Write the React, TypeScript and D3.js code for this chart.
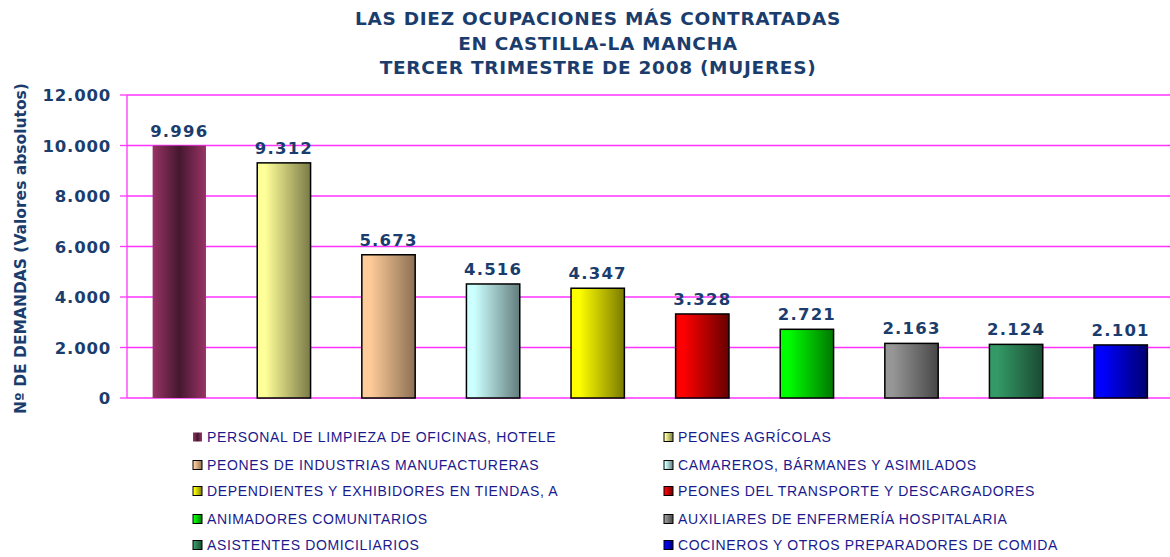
import React from 'react';
import * as d3 from 'd3';

// datos
const categories = [
  'PERSONAL DE LIMPIEZA DE OFICINAS, HOTELE',
  'PEONES AGRÍCOLAS',
  'PEONES DE INDUSTRIAS MANUFACTURERAS',
  'CAMAREROS, BÁRMANES Y ASIMILADOS',
  'DEPENDIENTES Y EXHIBIDORES EN TIENDAS, A',
  'PEONES DEL TRANSPORTE Y DESCARGADORES',
  'ANIMADORES COMUNITARIOS',
  'AUXILIARES DE ENFERMERÍA HOSPITALARIA',
  'ASISTENTES DOMICILIARIOS',
  'COCINEROS Y OTROS PREPARADORES DE COMIDA',
];
const values = [9996, 9312, 5673, 4516, 4347, 3328, 2721, 2163, 2124, 2101];
const yTicks = [0, 2000, 4000, 6000, 8000, 10000, 12000];
const titleLines = [
  'LAS DIEZ OCUPACIONES MÁS CONTRATADAS',
  'EN CASTILLA-LA MANCHA',
  'TERCER TRIMESTRE DE 2008 (MUJERES)',
];
// colores claro -> oscuro
const lightColors = ['#993366', '#FFFF99', '#FFCC99', '#CCFFFF', '#FFFF00', '#FF0000', '#00FF00', '#969696', '#339966', '#0000FF'];
const darkColors = ['#45182F', '#7A7A48', '#8C7054', '#637C7C', '#7A7A00', '#660000', '#007700', '#474747', '#1A4A32', '#000070'];

const W = 1170;
const H = 557;
const navy = '#1B3D6D';
const grid = '#FF33FF';
const font = 'DejaVu Sans, Verdana, sans-serif';

const fmt = (v: number) => d3.format(',')(v).replace(/,/g, '.');

export default function App() {
  const margin = { top: 95, left: 127, bottom: 398, right: 1173 };

  const x = d3
    .scaleBand<number>()
    .domain(values.map((_, i) => i))
    .range([margin.left, margin.right])
    .paddingInner(0.49)
    .paddingOuter(0.245);

  const y = d3.scaleLinear().domain([0, 12000]).range([margin.bottom, margin.top]);

  const legendCols = [193, 664];
  const legendRows = [437, 465, 491, 519, 545];

  return (
    <div style={{ position: 'absolute', left: 0, top: 0 }}>
      <svg width={W} height={H} style={{ display: 'block', background: '#fff' }}>
        <defs>
          {values.map((_, i) =>
            i === 0 ? (
              <linearGradient key={i} id={`g${i}`} x1="0" x2="1" y1="0" y2="0">
                <stop offset="0" stopColor={lightColors[i]} />
                <stop offset="0.5" stopColor={darkColors[i]} />
                <stop offset="1" stopColor={lightColors[i]} />
              </linearGradient>
            ) : (
              <linearGradient key={i} id={`g${i}`} x1="0" x2="1" y1="0" y2="0">
                <stop offset="0" stopColor={lightColors[i]} />
                <stop offset="0.15" stopColor={lightColors[i]} />
                <stop offset="1" stopColor={darkColors[i]} />
              </linearGradient>
            )
          )}
        </defs>

        {/* título */}
        <g fontFamily={font} fontWeight="bold" fontSize={18.5} letterSpacing={0.7} fill={navy} textAnchor="middle">
          {titleLines.map((t, i) => (
            <text key={i} x={598} y={25 + i * 24.5}>
              {t}
            </text>
          ))}
        </g>

        {/* rejilla */}
        {yTicks.map(t => (
          <line key={t} x1={margin.left} x2={W} y1={y(t)} y2={y(t)} stroke={grid} strokeWidth={1.3} />
        ))}

        {/* eje Y */}
        <line x1={margin.left} x2={margin.left} y1={y(12000)} y2={y(0)} stroke={grid} strokeWidth={1.3} />
        {yTicks.map(t => (
          <g key={t}>
            <line x1={margin.left - 7} x2={margin.left} y1={y(t)} y2={y(t)} stroke={grid} strokeWidth={1.3} />
            <text
              x={111}
              y={y(t) + 6}
              textAnchor="end"
              fontFamily={font}
              fontWeight="bold"
              fontSize={16.5}
              letterSpacing={0.8}
              fill={navy}
            >
              {fmt(t)}
            </text>
          </g>
        ))}
        <text
          transform={`translate(26,${(y(0) + y(12000)) / 2 + 2}) rotate(-90)`}
          textAnchor="middle"
          fontFamily={font}
          fontWeight="bold"
          fontSize={15.5}
          fill={navy}
        >
          Nº DE DEMANDAS (Valores absolutos)
        </text>

        {/* barras */}
        {values.map((v, i) => (
          <rect
            key={i}
            x={x(i)}
            y={y(v)}
            width={x.bandwidth()}
            height={y(0) - y(v)}
            fill={`url(#g${i})`}
            stroke={i === 0 ? 'none' : '#000'}
            strokeWidth={1.5}
          />
        ))}

        {/* etiquetas */}
        {values.map((v, i) => (
          <text
            key={i}
            x={(x(i) as number) + x.bandwidth() / 2}
            y={y(v) - 9}
            textAnchor="middle"
            fontFamily={font}
            fontWeight="bold"
            fontSize={16.5}
            letterSpacing={1.2}
            fill={navy}
          >
            {fmt(v)}
          </text>
        ))}

        {/* leyenda */}
        {categories.map((c, i) => {
          const lx = legendCols[i % 2];
          const ly = legendRows[Math.floor(i / 2)];
          return (
            <g key={i}>
              <rect x={lx} y={ly - 4.5} width={9} height={9} fill={`url(#g${i})`} stroke={i === 0 ? 'none' : '#000'} strokeWidth={1} />
              <text
                x={lx + 14}
                y={ly + 5}
                fontFamily="Liberation Sans, Arial, sans-serif"
                fontSize={14}
                letterSpacing={0.65}
                fill="#1A1A8C"
              >
                {c}
              </text>
            </g>
          );
        })}
      </svg>
    </div>
  );
}
